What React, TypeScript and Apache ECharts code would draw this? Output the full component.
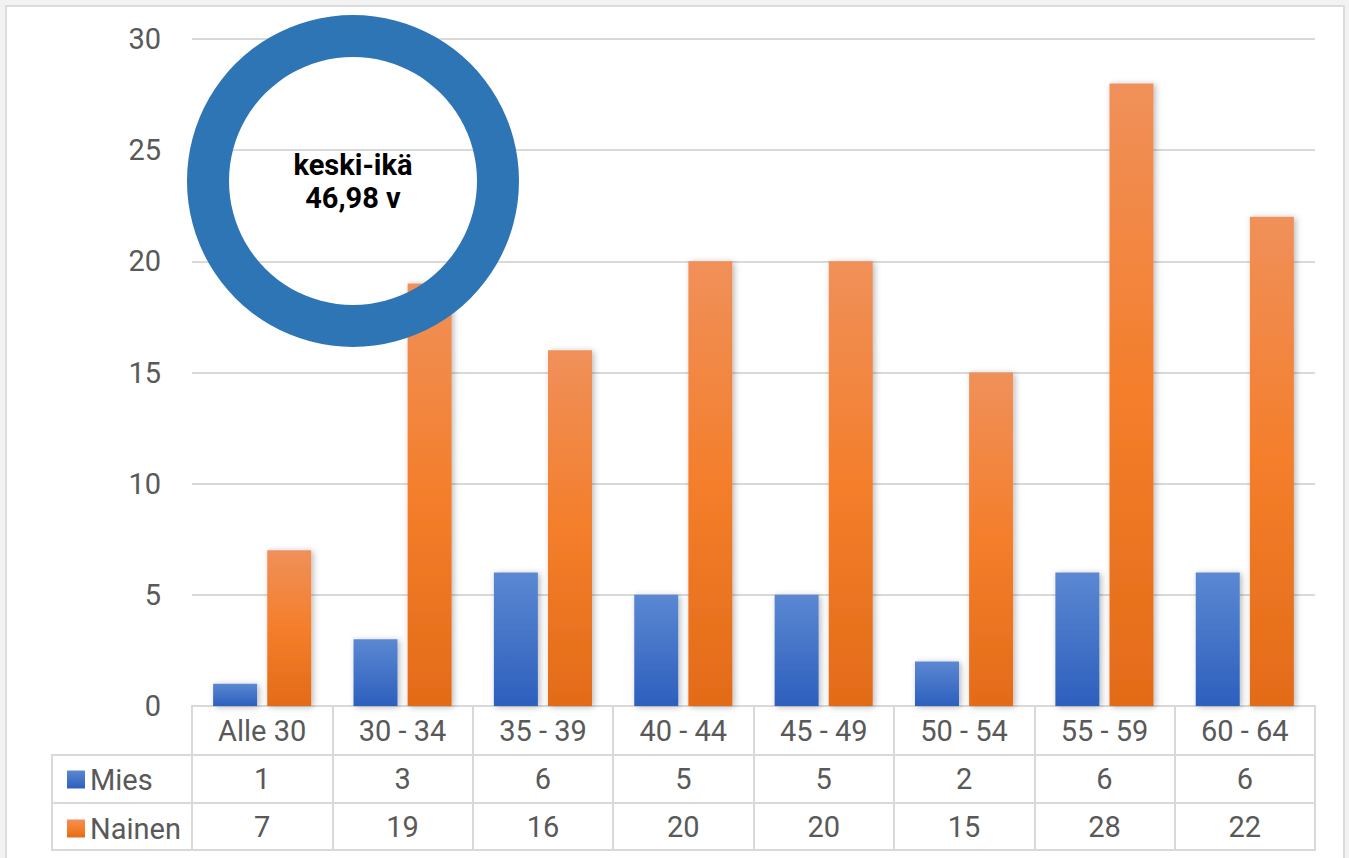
import React, { useEffect, useRef } from "react";
import * as echarts from "echarts";

const categories = ["Alle 30", "30 - 34", "35 - 39", "40 - 44", "45 - 49", "50 - 54", "55 - 59", "60 - 64"];
const miesValues = [1, 3, 6, 5, 5, 2, 6, 6];
const nainenValues = [7, 19, 16, 20, 20, 15, 28, 22];
const seriesNames = ["Mies", "Nainen"];
const averageAge = "46,98";
const averageLabel = "keski-ikä";
const yTicks = { min: 0, max: 30, interval: 5 };

const FONT = "Roboto";
const GRAY = "#595959";
const LINE = "#d9d9d9";

export default function App() {
  const ref = useRef<HTMLDivElement>(null);

  useEffect(() => {
    if (!ref.current) return;
    const chart = echarts.init(ref.current, null, { renderer: "svg" });

    const L = 192;
    const R = 34;
    const rows = [
      { top: 706, height: 49, labels: categories },
      { top: 755, height: 48, labels: miesValues.map(String) },
      { top: 803, height: 47, labels: nainenValues.map(String) },
    ];

    const miesGrad = new echarts.graphic.LinearGradient(0, 0, 0, 1, [
      { offset: 0, color: "#5b88d2" },
      { offset: 1, color: "#2d5fbd" },
    ]);
    const nainenGrad = new echarts.graphic.LinearGradient(0, 0, 0, 1, [
      { offset: 0, color: "#f0905a" },
      { offset: 0.5, color: "#f47e2b" },
      { offset: 1, color: "#e36b18" },
    ]);

    const grids: any[] = [
      { left: L, right: R, top: 39, bottom: 858 - 706, containLabel: false },
      ...rows.map((r) => ({
        left: L,
        right: R,
        top: r.top,
        height: r.height,
        show: true,
        borderColor: LINE,
        borderWidth: 2,
        backgroundColor: "transparent",
      })),
    ];

    const xAxes: any[] = [
      {
        type: "category",
        gridIndex: 0,
        data: categories,
        axisLine: { lineStyle: { color: LINE, width: 2 } },
        axisTick: { show: false },
        axisLabel: { show: false },
      },
      ...rows.map((r, i) => ({
        type: "category",
        gridIndex: i + 1,
        data: categories,
        position: "bottom",
        axisLine: { show: false },
        axisTick: { show: false },
        splitLine: { show: true, interval: 0, lineStyle: { color: LINE, width: 2 } },
        axisLabel: {
          interval: 0,
          margin: -r.height / 2,
          verticalAlign: "middle",
          color: GRAY,
          fontSize: 29,
          fontFamily: FONT,
          formatter: (_v: string, idx: number) => r.labels[idx],
        },
      })),
    ];

    const yAxes: any[] = [
      {
        type: "value",
        gridIndex: 0,
        min: yTicks.min,
        max: yTicks.max,
        interval: yTicks.interval,
        axisLine: { show: false },
        axisTick: { show: false },
        axisLabel: { color: GRAY, fontSize: 29, fontFamily: FONT, margin: 31 },
        splitLine: { lineStyle: { color: LINE, width: 2 } },
      },
      ...rows.map((_r, i) => ({
        type: "value",
        gridIndex: i + 1,
        show: false,
        splitLine: { show: false },
      })),
    ];

    const barShadow = {
      shadowBlur: 6,
      shadowColor: "rgba(0,0,0,0.28)",
      shadowOffsetX: 2,
      shadowOffsetY: 1,
    };

    chart.setOption({
      animation: false,
      textStyle: { fontFamily: FONT },
      grid: grids,
      xAxis: xAxes,
      yAxis: yAxes,
      legend: {
        orient: "vertical",
        left: 62,
        top: 760,
        itemWidth: 18,
        itemHeight: 18,
        itemGap: 20,
        icon: "rect",
        data: seriesNames,
        textStyle: { color: GRAY, fontSize: 29, fontFamily: FONT, lineHeight: 28 },
        selectedMode: false,
      },
      graphic: [
        {
          type: "rect",
          silent: true,
          shape: { x: 52, y: 755, width: 140, height: 95 },
          style: { fill: "none", stroke: LINE, lineWidth: 2 },
        },
        {
          type: "line",
          silent: true,
          shape: { x1: 52, y1: 803, x2: 192, y2: 803 },
          style: { stroke: LINE, lineWidth: 2 },
        },
      ],
      series: [
        {
          name: seriesNames[0],
          type: "bar",
          data: miesValues,
          barWidth: 44,
          barGap: "23%",
          itemStyle: { color: miesGrad, ...barShadow },
          emphasis: { disabled: true },
        },
        {
          name: seriesNames[1],
          type: "bar",
          data: nainenValues,
          barWidth: 44,
          itemStyle: { color: nainenGrad, ...barShadow },
          emphasis: { disabled: true },
        },
        {
          type: "pie",
          z: 10,
          silent: true,
          center: [353, 181],
          radius: [124, 166],
          startAngle: 90,
          data: [{ value: 1, name: averageLabel }],
          itemStyle: { color: "#2e75b6" },
          label: {
            show: true,
            position: "center",
            formatter: `${averageLabel}\n${averageAge} v`,
            color: "#000000",
            fontWeight: "bold",
            fontSize: 29,
            lineHeight: 33,
            fontFamily: FONT,
          },
          labelLine: { show: false },
          emphasis: { disabled: true },
        },
      ],
    });

    return () => chart.dispose();
  }, []);

  return (
    <div style={{ position: "fixed", left: 0, top: 0, width: 1349, height: 858, background: "#f2f2f2", overflow: "hidden" }}>
      <div
        style={{
          position: "absolute",
          left: 5,
          top: 5,
          width: 1340,
          height: 860,
          background: "#ffffff",
          border: "2px solid #dcdcdc",
          boxSizing: "border-box",
        }}
      />
      <div ref={ref} style={{ position: "absolute", left: 0, top: 0, width: 1349, height: 858 }} />
    </div>
  );
}
